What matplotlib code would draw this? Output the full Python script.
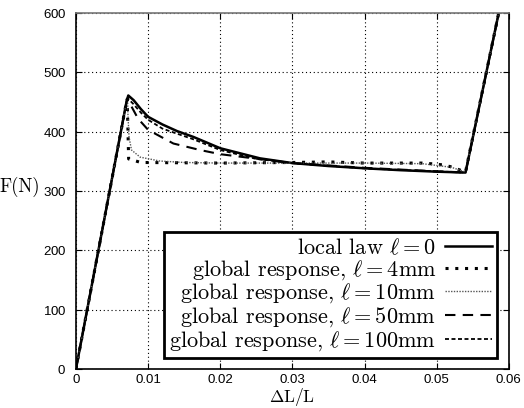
import matplotlib
matplotlib.use("Agg")
import matplotlib.pyplot as plt

plt.rcParams["font.family"] = "serif"
plt.rcParams["font.serif"] = ["cmr10", "DejaVu Serif"]
plt.rcParams["mathtext.fontset"] = "cm"
plt.rcParams["axes.formatter.use_mathtext"] = True

# strain / force pairs
x_local = [0, 0.0070, 0.00725, 0.0080, 0.0090, 0.0100, 0.0120, 0.0140, 0.0163,
           0.0200, 0.0255, 0.0300, 0.0350, 0.0403, 0.0450, 0.0500, 0.0540, 0.0586]
f_local = [0, 450, 461, 453, 438, 425, 412, 401, 391,
           372, 355, 347, 342, 338, 335, 332.5, 331, 600]

x_4mm = [0, 0.0070, 0.0071, 0.0073, 0.0090, 0.0200, 0.0300, 0.0350, 0.0400,
         0.0480, 0.0497, 0.0508, 0.0519, 0.0540, 0.0586]
f_4mm = [0, 450, 455, 354, 348, 347, 348, 349, 347,
         347, 345.5, 344, 341, 332, 600]

x_10mm = [0, 0.0070, 0.00715, 0.0072, 0.00735, 0.0077, 0.0089, 0.0116, 0.0150,
          0.0200, 0.0300, 0.0400, 0.0480, 0.0520, 0.0540, 0.0586]
f_10mm = [0, 450, 452, 430, 391, 369, 357, 350.5, 348,
          347, 347, 347, 346, 340, 332, 600]

x_50mm = [0, 0.0070, 0.0072, 0.0078, 0.0086, 0.0100, 0.0135, 0.0172, 0.0200,
          0.0246, 0.0300, 0.0400, 0.0500, 0.0540, 0.0586]
f_50mm = [0, 450, 455, 440, 422, 403, 380, 369, 362,
          355, 347, 339, 333, 331, 600]

x_100mm = [0, 0.0070, 0.0072, 0.0080, 0.0090, 0.0100, 0.0120, 0.0163, 0.0200,
           0.0250, 0.0300, 0.0400, 0.0500, 0.0540, 0.0586]
f_100mm = [0, 450, 456, 446, 432, 420, 405, 387, 369,
           354, 347, 338, 333, 331, 600]

labels = [
    r"local law $\ell = 0$",
    r"global response, $\ell = 4$mm",
    r"global response, $\ell = 10$mm",
    r"global response, $\ell = 50$mm",
    r"global response, $\ell = 100$mm",
]
x_ticks = [0, 0.01, 0.02, 0.03, 0.04, 0.05, 0.06]
x_ticklabels = ["0", "0.01", "0.02", "0.03", "0.04", "0.05", "0.06"]
y_ticks = [0, 100, 200, 300, 400, 500, 600]

fig = plt.figure(figsize=(5.24, 4.08), dpi=100)
ax = fig.add_axes([0.145, 0.096, 0.826, 0.872])

ax.plot(x_local, f_local, color="black", lw=1.8, label=labels[0])
ax.plot(x_4mm, f_4mm, color="black", lw=2.2, ls=(0, (1, 2.2)), label=labels[1])
ax.plot(x_10mm, f_10mm, color="#555555", lw=1.0, ls=(0, (1, 1)), label=labels[2])
ax.plot(x_50mm, f_50mm, color="black", lw=1.5, ls=(0, (5, 3.5)), label=labels[3])
ax.plot(x_100mm, f_100mm, color="black", lw=1.3, ls=(0, (2.2, 1.4)), label=labels[4])

ax.set_xlim(0, 0.06)
ax.set_ylim(0, 600)
ax.set_xticks(x_ticks)
ax.set_xticklabels(x_ticklabels)
ax.set_yticks(y_ticks)
for lab in ax.get_xticklabels() + ax.get_yticklabels():
    lab.set_family("Liberation Sans")
    lab.set_fontsize(9.5)
ax.tick_params(direction="in", length=4, top=True, right=True, width=0.8)
ax.tick_params(axis="x", pad=4)
ax.tick_params(axis="y", pad=7)
ax.grid(True, color="black", lw=0.8, ls=(0, (1, 2.5)))
ax.set_axisbelow(True)
for s in ax.spines.values():
    s.set_linewidth(1.2)
ax.spines["top"].set_color("#777777")

ax.set_xlabel(r"$\Delta$L/L", fontsize=12.5)
ax.xaxis.set_label_coords(0.5, -0.048)
ax.set_ylabel("F(N)", fontsize=13.5, rotation=0, ha="center", va="center")
ax.yaxis.set_label_coords(-0.13, 0.51)

leg = ax.legend(loc="lower right", bbox_to_anchor=(0.972, 0.031), borderaxespad=0,
                markerfirst=False, fancybox=False, framealpha=1, edgecolor="black",
                fontsize=16, handlelength=2.1, labelspacing=0.0, borderpad=0.22,
                handletextpad=0.4)
leg.get_frame().set_linewidth(2)

fig.savefig("out.png", dpi=100)
